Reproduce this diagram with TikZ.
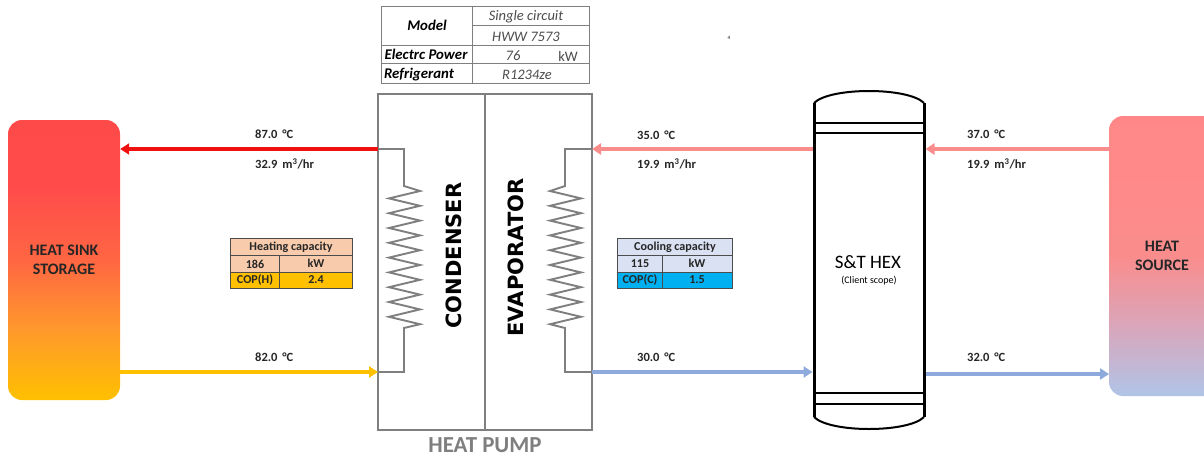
\documentclass[tikz,border=0pt]{standalone}
\usepackage{fontspec}
\setmainfont{Carlito}
\newfontfamily\wideb{DejaVu Sans}
\usetikzlibrary{arrows.meta}
\definecolor{gline}{HTML}{7F7F7F}
\definecolor{hotred}{HTML}{F01010}
\definecolor{pinkl}{HTML}{FA8C8C}
\definecolor{bluel}{HTML}{8EA9DB}
\definecolor{yell}{HTML}{FFC000}
\definecolor{peach}{HTML}{F8CBAD}
\definecolor{lav}{HTML}{D9E1F2}
\definecolor{cyanb}{HTML}{00B0F0}
\pgfdeclareverticalshading{sinkshade}{100bp}{
 rgb(0bp)=(1,0.753,0); rgb(25bp)=(1,0.753,0); rgb(37.5bp)=(1,0.60,0.17);
 rgb(50bp)=(1,0.40,0.26); rgb(62.5bp)=(1,0.30,0.29); rgb(75bp)=(1,0.29,0.29); rgb(100bp)=(1,0.29,0.29)}
\pgfdeclareverticalshading{sourceshade}{100bp}{
 rgb(0bp)=(0.69,0.77,0.91); rgb(25bp)=(0.69,0.77,0.91); rgb(37.5bp)=(0.85,0.65,0.73);
 rgb(50bp)=(0.98,0.55,0.55); rgb(62.5bp)=(1,0.54,0.54); rgb(75bp)=(1,0.53,0.53); rgb(100bp)=(1,0.53,0.53)}
\tikzset{
 x=1pt,y=-1pt,
 flow/.style={line width=3.4pt,-{Triangle[length=9pt,width=11pt]}},
 lab/.style={font=\fontsize{12.5}{13}\selectfont\bfseries,inner sep=0pt,anchor=west,text=black!85},
 coil/.style={draw=gline,line width=1.9pt,line join=miter},
 tcell/.style={draw=gline,line width=0.9pt},
 ttext/.style={font=\fontsize{14.5}{15}\selectfont\itshape,text=black!70,inner sep=0pt},
 tbold/.style={font=\fontsize{14.8}{15}\selectfont\itshape\bfseries,inner sep=0pt},
 ctext/.style={font=\fontsize{12.1}{13}\selectfont\bfseries,inner sep=0pt,text=black!85},
 big/.style={font=\wideb\fontsize{21}{23}\selectfont\bfseries,inner sep=0pt,rotate=90},
 tank/.style={draw=black,line width=2pt},
 side/.style={font=\fontsize{16}{19}\selectfont\bfseries,align=center,inner sep=0pt,text=black!85},
}
\begin{document}
\begin{tikzpicture}
\useasboundingbox (0,0) rectangle (1204,458);
\fill[white] (0,0) rectangle (1204,458);
% side boxes
\node[minimum width=112pt,minimum height=280pt,rounded corners=14pt,shading=sinkshade,inner sep=0pt] (sink) at (64,260) {};
\node[side] (sinkl) at (64,260) {HEAT SINK\\STORAGE};
\begin{scope}
\clip (0,0) rectangle (1204,458);
\node[minimum width=120pt,minimum height=280pt,rounded corners=14pt,shading=sourceshade,inner sep=0pt] (source) at (1169,256) {};
\end{scope}
\node[side] (sourcel) at (1162,256) {HEAT\\SOURCE};
% heat pump
\draw[gline,line width=1.5pt] (378,94) rectangle (592,430);
\draw[gline,line width=2.6pt] (378,94) -- (592,94);
\draw[gline,line width=1.5pt] (485,94) -- (485,430);
% coils
\coordinate (cTop) at (378,149);
\coordinate (cBot) at (378,372);
\coordinate (eTop) at (592,149);
\coordinate (eBot) at (592,372);
\draw[coil] (cTop) -- (404,149) -- (404,186) -- (420,191) -- (389,198.4) -- (420,205.8) -- (389,213.2) -- (420,220.6) -- (389,228) -- (420,235.4) -- (389,242.8) -- (420,250.2) -- (389,257.6) -- (420,265) -- (389,272.4) -- (420,279.8) -- (389,287.2) -- (420,294.6) -- (389,302) -- (420,309.4) -- (389,316.8) -- (420,324.2) -- (404,328) -- (404,372) -- (cBot);
\draw[coil] (eTop) -- (565,149) -- (565,186) -- (550,191) -- (581,198.4) -- (550,205.8) -- (581,213.2) -- (550,220.6) -- (581,228) -- (550,235.4) -- (581,242.8) -- (550,250.2) -- (581,257.6) -- (550,265) -- (581,272.4) -- (550,279.8) -- (581,287.2) -- (550,294.6) -- (581,302) -- (550,309.4) -- (581,316.8) -- (550,324.2) -- (565,328) -- (565,372) -- (eBot);
\node[big] (cond) at (453.5,255.5) {CONDENSER};
\node[big] (evap) at (515.5,257.5) {EVAPORATOR};
\node[font=\fontsize{22.9}{24}\selectfont\bfseries,text=gline,inner sep=0pt] (hp) at (485,445) {HEAT PUMP};
% tank
\draw[tank] (814,103) .. controls (830,87) and (908,87) .. (924,103);
\draw[tank,line width=3pt] (814,103) -- (814,417);
\draw[tank,line width=3pt] (924,103) -- (924,417);
\draw[tank] (814,417) .. controls (830,433) and (908,433) .. (924,417);
\draw[tank,line width=1.7pt] (814,123) -- (924,123);
\draw[tank,line width=1.7pt] (814,133) -- (924,133);
\draw[tank,line width=1.7pt] (814,393) -- (924,393);
\draw[tank,line width=1.7pt] (814,404) -- (924,404);
\coordinate (tL1) at (812.5,149);
\coordinate (tR1) at (925.5,149);
\coordinate (tL2) at (812.5,372);
\coordinate (tR2) at (925.5,374);
\node[font=\fontsize{19}{21}\selectfont,inner sep=0pt] (hexl) at (868,262) {S\&T HEX};
\node[font=\fontsize{10}{12}\selectfont,inner sep=0pt] (hexs) at (869,281) {(Client scope)};
% flows
\draw[flow,hotred] (cTop) -- (sink.east |- cTop);
\draw[flow,yell] (sink.east |- cBot) -- (cBot);
\draw[flow,pinkl] (tL1) -- (eTop);
\draw[flow,bluel] (eBot) -- (tL2);
\coordinate (srcTop) at (1109,149);
\coordinate (srcBot) at (1109,374);
\draw[flow,pinkl] (srcTop) -- (tR1);
\draw[flow,bluel] (tR2) -- (srcBot);
% labels
\node[lab] (l1) at (255,134) {87.0 \,°C};
\node[lab] (l2) at (255,164) {32.9 \,m\textsuperscript{3}/hr};
\node[lab] (l3) at (255,357) {82.0 \,°C};
\node[lab] (l4) at (637,135) {35.0 \,°C};
\node[lab] (l5) at (637,164) {19.9 \,m\textsuperscript{3}/hr};
\node[lab] (l6) at (637,357) {30.0 \,°C};
\node[lab] (l7) at (967,134) {37.0 \,°C};
\node[lab] (l8) at (967,164) {19.9 \,m\textsuperscript{3}/hr};
\node[lab] (l9) at (967,357) {32.0 \,°C};
% top table
\draw[tcell,fill=white] (381,6) rectangle (589,83);
\draw[tcell] (472,6) -- (472,83) (472,25) -- (589,25) (381,45) -- (589,45) (381,63) -- (589,63);
\node[tbold] (t1) at (427,25) {Model};
\node[ttext] (t2) at (526,17) {Single circuit};
\node[ttext] (t3) at (526,37) {HWW 7573};
\node[tbold] (t4) at (426,54) {Electrc Power};
\node[ttext] (t5) at (513,56) {76};
\node[ttext,font=\fontsize{14.5}{15}\selectfont] (t6) at (568,56) {kW};
\node[tbold] (t7) at (419,75) {Refrigerant};
\node[ttext] (t8) at (527,75) {R1234ze};
% heating
\fill[peach] (230,238) rectangle (352,272);
\fill[yell] (230,272) rectangle (352,288);
\draw[black!70,line width=0.8pt] (230,238) rectangle (352,288) (230,255) -- (352,255) (230,272) -- (352,272) (279,255) -- (279,288);
\node[ctext] (h1) at (291,247) {Heating capacity};
\node[ctext] (h2) at (255,264) {186};
\node[ctext] (h3) at (316,263) {kW};
\node[ctext] (h4) at (255,280) {COP(H)};
\node[ctext] (h5) at (316,280) {2.4};
% cooling
\fill[lav] (617,238) rectangle (732,272);
\fill[cyanb] (617,272) rectangle (732,288);
\draw[black!70,line width=0.8pt] (617,238) rectangle (732,288) (617,255) -- (732,255) (617,272) -- (732,272) (662,255) -- (662,288);
\node[ctext] (c1) at (675,247) {Cooling capacity};
\node[ctext] (c2) at (640,264) {115};
\node[ctext] (c3) at (697,263) {kW};
\node[ctext] (c4) at (640,280) {COP(C)};
\node[ctext] (c5) at (697,280) {1.5};
\node[font=\fontsize{5}{6}\selectfont,inner sep=0pt] (four) at (729,38) {4};
\end{tikzpicture}
\end{document}
